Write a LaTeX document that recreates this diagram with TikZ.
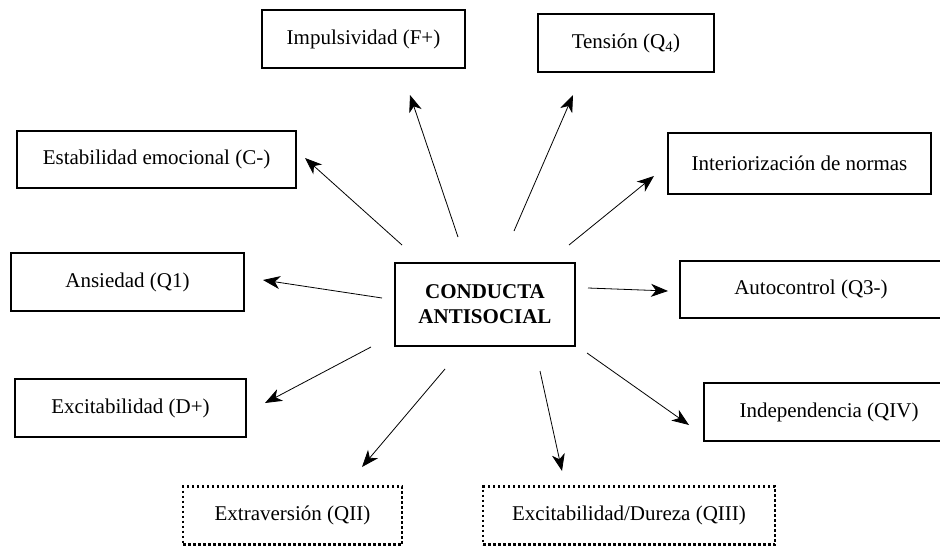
\documentclass[tikz,border=0pt]{standalone}
\usepackage{fontspec}
\setmainfont{Liberation Serif}
\usetikzlibrary{arrows.meta}
\begin{document}
\begin{tikzpicture}[x=1pt,y=-1pt,
  every node/.style={font=\fontsize{21}{25}\selectfont, inner sep=0pt, align=center},
  box/.style={draw, line width=1.8pt},
  dotbox/.style={draw, line width=2.5pt, dash pattern=on 2.5pt off 2.5pt},
  arr/.style={line width=0.8pt, -{Stealth[length=17pt,width=13pt,inset=5pt]}}]
\useasboundingbox (0,0) rectangle (940,546);
\node[box, minimum width=203pt, minimum height=58pt] (imp) at (363.5,39) {Impulsividad (F+)};
\node[box, minimum width=176pt, minimum height=58pt] (ten) at (626,43) {Tensión (Q\textsubscript{4})};
\node[box, minimum width=279pt, minimum height=57pt] (est) at (156.5,159.5) {Estabilidad emocional (C-)};
\node[box, minimum width=263pt, minimum height=61pt] (int) at (799.5,163.5) {Interiorización de normas};
\node[box, minimum width=233pt, minimum height=58pt] (ans) at (127.5,282) {Ansiedad (Q1)};
\node[box, minimum width=180pt, minimum height=83pt, font=\fontsize{21}{25}\selectfont\bfseries] (cen) at (485,304.5) {CONDUCTA\\ANTISOCIAL};
\node[box, minimum width=262pt, minimum height=57pt] (aut) at (811,289.5) {Autocontrol (Q3-)};
\node[box, minimum width=231pt, minimum height=58pt] (exc) at (130.5,408) {Excitabilidad (D+)};
\node[box, minimum width=250pt, minimum height=58pt] (ind) at (829,412) {Independencia (QIV)};
\node[dotbox, minimum width=219pt, minimum height=58pt] (ext) at (292.5,515.5) {Extraversión (QII)};
\node[dotbox, minimum width=292pt, minimum height=58pt] (dur) at (629,515.5) {Excitabilidad/Dureza (QIII)};
% arrow ends
\coordinate (s1) at (402,245); \coordinate (e1) at (305,158);
\coordinate (s2) at (458,237); \coordinate (e2) at (410,95);
\coordinate (s3) at (514,231); \coordinate (e3) at (573,95);
\coordinate (s4) at (569,245); \coordinate (e4) at (654,176);
\coordinate (s5) at (382,298); \coordinate (e5) at (263,280);
\coordinate (s6) at (588,288); \coordinate (e6) at (668,291);
\coordinate (s7) at (371,347); \coordinate (e7) at (265,403);
\coordinate (s8) at (445,369); \coordinate (e8) at (362,467);
\coordinate (s9) at (540,371); \coordinate (e9) at (562,471);
\coordinate (s10) at (587,353); \coordinate (e10) at (689,425);
\foreach \i in {1,...,10} { \draw[arr] (s\i) -- (e\i); }
\end{tikzpicture}
\end{document}
